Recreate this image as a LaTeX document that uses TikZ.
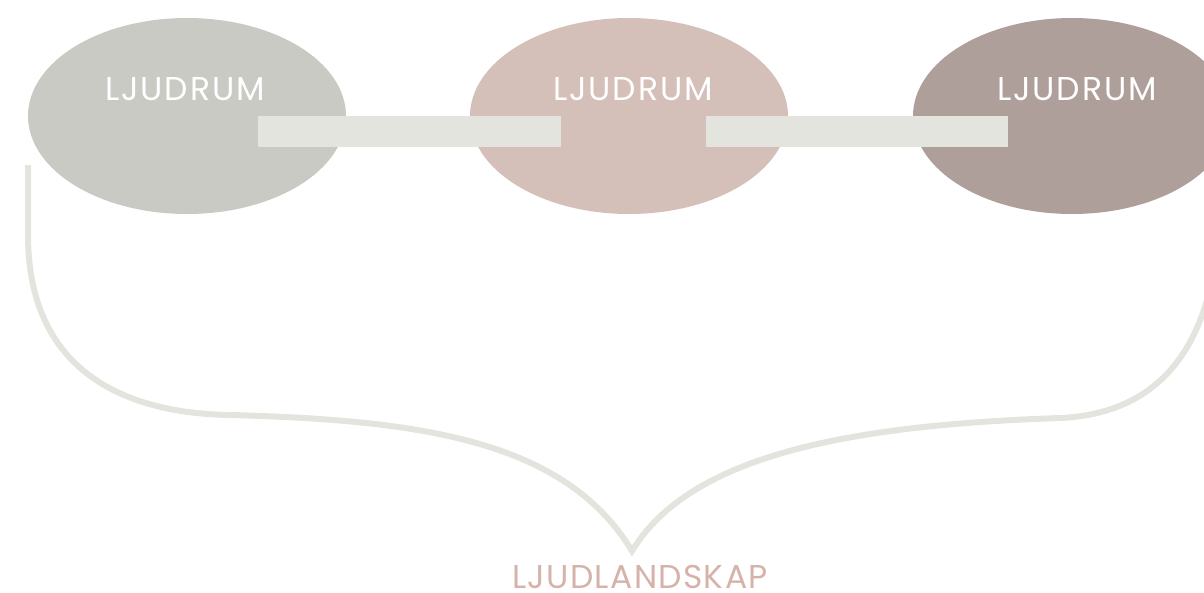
\documentclass[tikz,border=0pt]{standalone}
\usepackage{fontspec}
\setmainfont{Poppins}
\newfontfamily\labfont[LetterSpace=6]{Poppins}
\newfontfamily\capfont[LetterSpace=4]{Poppins}
\usetikzlibrary{shapes.geometric}
\definecolor{gr}{HTML}{C9CAC4}
\definecolor{ro}{HTML}{D4C0B9}
\definecolor{mv}{HTML}{AF9F9A}
\definecolor{bar}{HTML}{E4E4DF}
\definecolor{pk}{HTML}{D6B3AA}
\tikzset{
  room/.style={ellipse, minimum width=318pt, minimum height=196pt, inner sep=0pt, draw=none},
  barbox/.style={fill=bar, draw=none, minimum height=31pt, inner sep=0pt, anchor=north west},
  roomlabel/.style={text=white, font=\labfont\fontsize{33}{33}\selectfont, anchor=base},
  brace/.style={draw=bar, line width=6pt}
}
\begin{document}
\begin{tikzpicture}[x=1pt,y=-1pt]
\useasboundingbox (0,0) rectangle (1204,592);
\begin{scope}
\clip (0,0) rectangle (1204,592);
\node[room, fill=gr] (r1) at (187,116) {};
\node[room, fill=ro] (r2) at (629,116) {};
\node[room, fill=mv] (r3) at (1072,116) {};
\node[barbox, minimum width=303pt] (b1) at (258,116) {};
\node[barbox, minimum width=302pt] (b2) at (706,116) {};
\node[roomlabel] (t1) at (185,100) {LJUDRUM};
\node[roomlabel] (t2) at (633,100) {LJUDRUM};
\node[roomlabel] (t3) at (1077,100) {LJUDRUM};
\coordinate (s) at (28,165);
\coordinate (tip) at (632,551);
\coordinate (e) at (1212,280);
\draw[brace] (s) -- (28,235) .. controls (28,360) and (110,413) .. (230,415)
  .. controls (420,420) and (565,440) .. (tip)
  .. controls (690,455) and (850,425) .. (1060,418)
  .. controls (1150,414) and (1195,360) .. (e);
\end{scope}
\node[text=pk, font=\capfont\fontsize{33}{33}\selectfont, anchor=base, inner sep=0pt] (ls) at (640,588) {LJUDLANDSKAP};
\end{tikzpicture}
\end{document}
